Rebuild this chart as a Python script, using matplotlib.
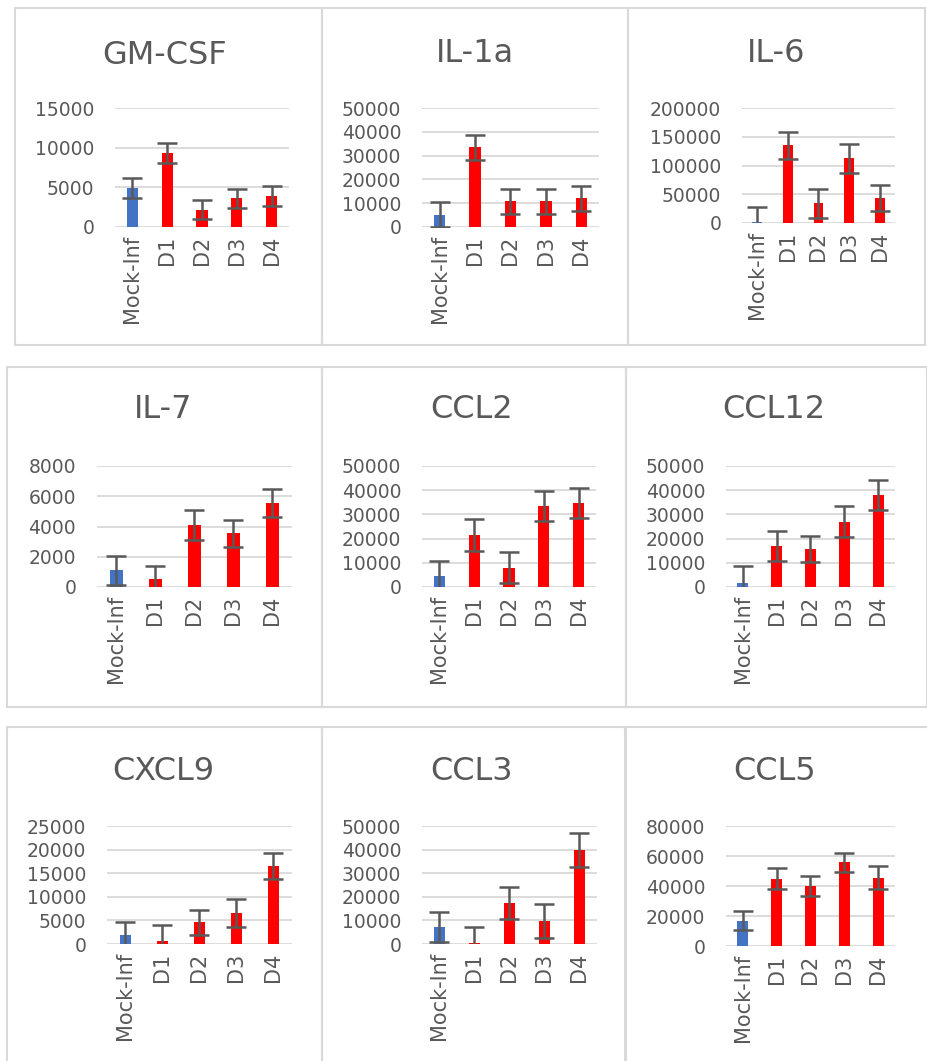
import matplotlib.pyplot as plt
from matplotlib.patches import Rectangle

FIG_W, FIG_H = 928, 1061

categories = ["Mock-Inf", "D1", "D2", "D3", "D4"]
bar_colors = ["#4472C4", "#FF0000", "#FF0000", "#FF0000", "#FF0000"]

titles = ["GM-CSF", "IL-1a", "IL-6", "IL-7", "CCL2", "CCL12", "CXCL9", "CCL3", "CCL5"]

gmcsf_mean = [4900, 9300, 2200, 3600, 3950]
gmcsf_err = [1250, 1250, 1200, 1200, 1250]
il1a_mean = [5200, 33500, 10800, 10800, 12000]
il1a_err = [5300, 5200, 5300, 5300, 5200]
il6_mean = [1000, 135000, 34500, 112500, 43000]
il6_err = [27000, 23000, 25000, 25500, 22500]
il7_mean = [1100, 560, 4100, 3550, 5580]
il7_err = [950, 820, 1000, 900, 920]
ccl2_mean = [4500, 21500, 8000, 33500, 34700]
ccl2_err = [6200, 6500, 6300, 6200, 6200]
ccl12_mean = [1800, 17000, 15800, 27000, 38000]
ccl12_err = [6900, 6100, 5300, 6300, 6200]
cxcl9_mean = [1900, 700, 4600, 6500, 16500]
cxcl9_err = [2700, 3300, 2700, 3000, 2700]
ccl3_mean = [7300, 300, 17300, 9700, 40000]
ccl3_err = [6400, 6800, 6900, 7200, 7200]
ccl5_mean = [16800, 45000, 39900, 55700, 45500]
ccl5_err = [6300, 6800, 6500, 6300, 7700]

means = [gmcsf_mean, il1a_mean, il6_mean, il7_mean, ccl2_mean,
         ccl12_mean, cxcl9_mean, ccl3_mean, ccl5_mean]
errs = [gmcsf_err, il1a_err, il6_err, il7_err, ccl2_err,
        ccl12_err, cxcl9_err, ccl3_err, ccl5_err]
y_max = [15000, 50000, 200000, 8000, 50000, 50000, 25000, 50000, 80000]
y_step = [5000, 10000, 50000, 2000, 10000, 10000, 5000, 10000, 20000]

# panel frames (pixels): x0, y0, x1, y1
frames = [
    (15, 8, 322, 345), (322, 8, 628, 345), (628, 8, 925, 345),
    (7, 367, 322, 707), (322, 367, 626, 707), (626, 367, 927, 707),
    (7, 727, 322, 1070), (322, 727, 625, 1070), (626, 727, 930, 1070),
]
# plot areas (pixels): left, right, top gridline, zero line
plot_areas = [
    (115, 289, 108, 227), (422, 599, 108, 227), (742, 895, 108, 223),
    (97, 292, 466, 587), (422, 596, 466, 587), (726, 895, 466, 587),
    (107, 292, 826, 944), (422, 597, 826, 944), (726, 895, 826, 946),
]
title_pos = [
    (165, 55), (475, 54), (776, 53),
    (163, 409), (472, 410), (774, 410),
    (163, 772), (472, 772), (775, 772),
]

GRAY = "#595959"
GRID = "#D9D9D9"

fig = plt.figure(figsize=(FIG_W / 100, FIG_H / 100), dpi=100)
fig.patch.set_facecolor("white")

for i in range(9):
    x0, y0, x1, y1 = frames[i]
    fig.add_artist(Rectangle((x0 / FIG_W, 1 - y1 / FIG_H), (x1 - x0) / FIG_W, (y1 - y0) / FIG_H,
                             transform=fig.transFigure, fill=False, edgecolor="#D9D9D9", linewidth=1.5))

    left, right, top, zero = plot_areas[i]
    ax = fig.add_axes([left / FIG_W, 1 - zero / FIG_H, (right - left) / FIG_W, (zero - top) / FIG_H])
    xs = range(len(categories))
    ax.bar(xs, means[i], width=0.32, color=bar_colors, zorder=3)
    ax.errorbar(xs, means[i], yerr=errs[i], fmt="none", ecolor=GRAY,
                elinewidth=1.8, capsize=7, capthick=1.8, zorder=4)

    ax.set_xlim(-0.5, len(categories) - 0.5)
    ax.set_ylim(0, y_max[i])
    ax.set_yticks(range(0, y_max[i] + 1, y_step[i]))
    ax.set_xticks(list(xs))
    ax.set_xticklabels(categories, rotation=90)
    ax.grid(axis="y", color=GRID, linewidth=1.3, zorder=0)
    ax.set_axisbelow(True)
    for s in ax.spines.values():
        s.set_visible(False)
    ax.tick_params(axis="y", length=0, pad=15, labelsize=13.5, labelcolor=GRAY)
    ax.tick_params(axis="x", length=0, pad=6, labelsize=15, labelcolor=GRAY)
    ax.patch.set_alpha(0)

    tx, ty = title_pos[i]
    fig.text(tx / FIG_W, 1 - ty / FIG_H, titles[i], ha="center", va="center",
             fontsize=23, color=GRAY)

fig.savefig("out.png", dpi=100)
